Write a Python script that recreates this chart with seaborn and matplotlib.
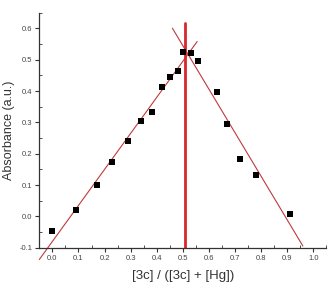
import numpy as np
import pandas as pd
import matplotlib
matplotlib.use("Agg")
import matplotlib.pyplot as plt
import seaborn as sns
from matplotlib.ticker import MultipleLocator

# ========== DATA ==========
mole_fraction = [0.0, 0.09, 0.17, 0.23, 0.29, 0.34, 0.38, 0.42, 0.45, 0.48,
                 0.50, 0.53, 0.56, 0.63, 0.67, 0.72, 0.78, 0.91]
absorbance = [-0.048, 0.021, 0.099, 0.175, 0.242, 0.303, 0.334, 0.413, 0.444, 0.464,
              0.525, 0.520, 0.496, 0.396, 0.296, 0.182, 0.133, 0.009]

# linear fits (x range, slope, intercept)
left_fit_x = [-0.05, 0.555]
left_slope, left_intercept = 1.15, -0.080
right_fit_x = [0.46, 0.96]
right_slope, right_intercept = -1.39, 1.240

# stoichiometry marker
x_max = 0.51
vline_y = [-0.1, 0.617]

x_ticks = [0.0, 0.1, 0.2, 0.3, 0.4, 0.5, 0.6, 0.7, 0.8, 0.9, 1.0]
y_ticks = [-0.1, 0.0, 0.1, 0.2, 0.3, 0.4, 0.5, 0.6]

df = pd.DataFrame({"x": mole_fraction, "A": absorbance})

sns.set_style("ticks")
plt.rcParams['font.family'] = ['Liberation Sans', 'DejaVu Sans']

fig = plt.figure(figsize=(3.29, 2.96), dpi=100)
ax = fig.add_axes([0.1195, 0.163, 0.8725, 0.794])

# fit lines (left one runs past the axis in the original)
lx = np.array(left_fit_x)
ax.plot(lx, left_slope * lx + left_intercept, color="#c0393b", lw=0.8,
        zorder=2, clip_on=False)
rx = np.array(right_fit_x)
ax.plot(rx, right_slope * rx + right_intercept, color="#c0393b", lw=0.8, zorder=2)
ax.plot([x_max, x_max], vline_y, color="#d9262a", lw=2.0, zorder=2)

sns.scatterplot(data=df, x="x", y="A", marker="s", s=13, color="black",
                edgecolor="black", linewidth=0, ax=ax, zorder=3)

ax.set_xlim(-0.05, 1.05)
ax.set_ylim(-0.1, 0.65)
ax.set_xticks(x_ticks)
ax.set_yticks(y_ticks)
ax.set_xticklabels([f"{t:.1f}" for t in x_ticks])
ax.set_yticklabels([f"{t:.1f}" for t in y_ticks])
ax.xaxis.set_minor_locator(MultipleLocator(0.05))
ax.yaxis.set_minor_locator(MultipleLocator(0.05))

ax.tick_params(which="major", direction="out", length=3, width=0.8,
               labelsize=5.5, labelcolor="#444444", color="#333333", pad=2)
ax.tick_params(which="minor", direction="in", length=2, width=0.6, color="#333333")

for side in ["top", "right"]:
    ax.spines[side].set_visible(False)
for side in ["left", "bottom"]:
    ax.spines[side].set_color("#333333")
    ax.spines[side].set_linewidth(0.9)

ax.set_xlabel("[3c] / ([3c] + [Hg])", fontsize=9.5, color="#333333", labelpad=6)
ax.set_ylabel("Absorbance (a.u.)", fontsize=9, color="#333333", labelpad=3)

fig.savefig("out.png", dpi=100)
